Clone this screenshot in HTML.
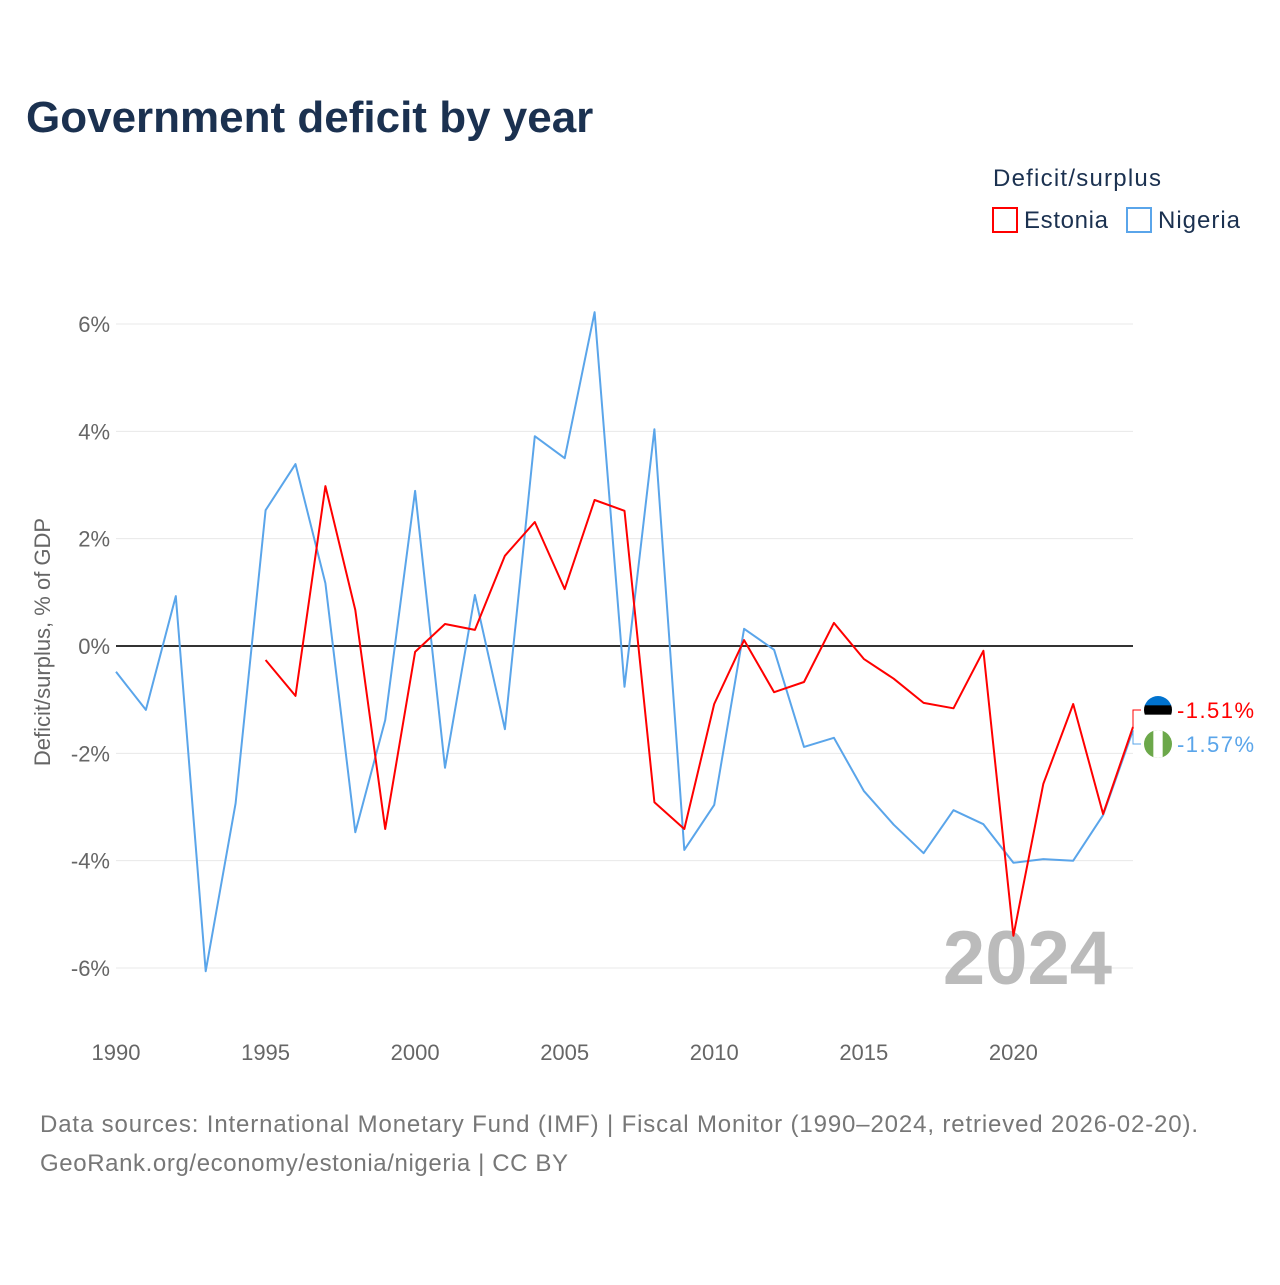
<!DOCTYPE html>
<html><head><meta charset="utf-8"><style>
body{margin:0;background:#fff;font-family:"Liberation Sans",sans-serif;}
</style></head><body>
<svg width="1280" height="1280" viewBox="0 0 1280 1280" xmlns="http://www.w3.org/2000/svg" style="font-family:'Liberation Sans',sans-serif">
<text x="26" y="132" font-size="44" font-weight="bold" fill="#1b3150">Government deficit by year</text>
<text x="993" y="186" font-size="24" fill="#1b3150" textLength="168">Deficit/surplus</text>
<g><rect x="993" y="208" width="24" height="24" fill="none" stroke="#f00" stroke-width="2"/><text x="1024" y="228" font-size="24" fill="#1b3150" textLength="84">Estonia</text></g>
<g><rect x="1127" y="208" width="24" height="24" fill="none" stroke="#5aa5ea" stroke-width="2"/><text x="1158" y="228" font-size="24" fill="#1b3150" textLength="82">Nigeria</text></g>
<text transform="translate(50,642) rotate(-90)" text-anchor="middle" font-size="22" fill="#666">Deficit/surplus, % of GDP</text>
<g id="grid"></g><g id="axes"></g>
<text x="1112" y="984" text-anchor="end" font-size="76" font-weight="bold" fill="#bbb">2024</text>
<g id="series"></g>
<text x="40" y="1132" font-size="24" fill="#777" textLength="1158">Data sources: International Monetary Fund (IMF) | Fiscal Monitor (1990–2024, retrieved 2026-02-20).</text>
<text x="40" y="1171" font-size="24" fill="#777" textLength="528">GeoRank.org/economy/estonia/nigeria | CC BY</text>
</svg>
<script>
const years=[];for(let y=1990;y<=2024;y++)years.push(y);
const nigeria=[-0.48,-1.19,0.93,-6.06,-2.93,2.53,3.39,1.17,-3.47,-1.38,2.89,-2.27,0.95,-1.55,3.91,3.50,6.22,-0.76,4.04,-3.80,-2.96,0.32,-0.07,-1.88,-1.71,-2.70,-3.33,-3.86,-3.06,-3.32,-4.04,-3.97,-4.00,-3.15,-1.57];
const estonia=[null,null,null,null,null,-0.26,-0.93,2.98,0.67,-3.41,-0.11,0.41,0.30,1.68,2.31,1.06,2.72,2.52,-2.91,-3.41,-1.08,0.11,-0.86,-0.67,0.43,-0.24,-0.61,-1.06,-1.16,-0.09,-5.40,-2.57,-1.08,-3.13,-1.51];
const yTicks=[6,4,2,0,-2,-4,-6];
const xTicks=[1990,1995,2000,2005,2010,2015,2020];
const NS="http://www.w3.org/2000/svg";
const X=y=>116+(y-1990)*(1133-116)/34;
const Y=v=>646-v*53.67;
function mk(t,a,p){const e=document.createElementNS(NS,t);for(const k in a)e.setAttribute(k,a[k]);p.appendChild(e);return e;}
const grid=document.getElementById('grid'),axes=document.getElementById('axes'),ser=document.getElementById('series');
yTicks.forEach(v=>{
 const l=mk('line',{x1:116,x2:1133,y1:Y(v),y2:Y(v),stroke:v===0?'#333':'#e8e8e8','stroke-width':v===0?2:1},grid);
 
 
 const t=mk('text',{x:110,y:Y(v)+8,'text-anchor':'end','font-size':22,fill:'#666'},axes);
 t.textContent=v+'%';
 
 
});
xTicks.forEach(yr=>{
 const t=mk('text',{x:X(yr),y:1060,'text-anchor':'middle','font-size':22,fill:'#666'},axes);
 t.textContent=yr;
 
 
});
function line(vals,col,name){
 let d='';vals.forEach((v,i)=>{if(v===null)return;d+=(d?'L':'M')+X(years[i]).toFixed(1)+','+Y(v).toFixed(1);});
 const p=mk('path',{d:d,fill:'none',stroke:col,'stroke-width':2,'stroke-linejoin':'round'},ser);
 
 
}
line(nigeria,'#5aa5ea','nigeria-line');
line(estonia,'#f00','estonia-line');
function endLabel(v,col,ly,name,flag){
 const x=X(2024);
 mk('path',{d:`M${x},${Y(v)} L${x},${ly} L${x+8},${ly}`,fill:'none',stroke:col,'stroke-width':1},ser);
 const g=mk('g',{},ser);
 
 
 const cx=1158,r=14;
 const cp=mk('clipPath',{id:'c'+name},g);mk('circle',{cx:cx,cy:ly,r:r},cp);
 const gg=mk('g',{'clip-path':'url(#c'+name+')'},g);
 if(flag==='ee'){mk('rect',{x:cx-r,y:ly-r,width:2*r,height:r*2/3+0.5,fill:'#0072ce'},gg);mk('rect',{x:cx-r,y:ly-r/3,width:2*r,height:r*2/3+0.5,fill:'#000'},gg);mk('rect',{x:cx-r,y:ly+r/3,width:2*r,height:r*2/3,fill:'#fff'},gg);}
 else{mk('rect',{x:cx-r,y:ly-r,width:2*r,height:2*r,fill:'#6ca84a'},gg);mk('rect',{x:cx-r/3,y:ly-r,width:r*2/3,height:2*r,fill:'#fff'},gg);}
 const t=mk('text',{x:1177,y:ly+8,'font-size':22,fill:col,textLength:77},ser);
 t.textContent=v.toFixed(2)+'%';
 
 
}
endLabel(estonia[estonia.length-1],'#f00',710,'estonia','ee');
endLabel(nigeria[nigeria.length-1],'#5aa5ea',744,'nigeria','ng');
</script>
</body></html>
